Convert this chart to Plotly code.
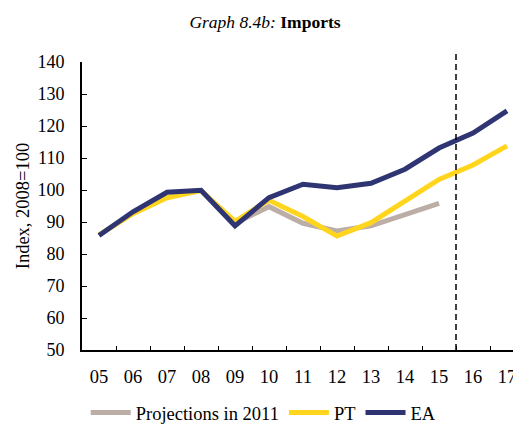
import plotly.graph_objects as go

years = ["05", "06", "07", "08", "09", "10", "11", "12", "13", "14", "15", "16", "17"]
ea = [85.8, 93.2, 99.3, 99.9, 88.8, 97.6, 101.8, 100.7, 102.1, 106.5, 113.1, 117.8, 124.7]
pt = [86.0, 92.6, 97.6, 99.8, 90.2, 96.8, 91.7, 85.6, 89.8, 96.6, 103.3, 107.8, 113.8]
proj_years = ["09", "10", "11", "12", "13", "14", "15"]
proj_2011 = [89.6, 94.8, 89.6, 87.2, 88.8, 92.2, 95.8]

serif = "Times New Roman"

fig = go.Figure()
fig.add_trace(go.Scatter(x=proj_years, y=proj_2011, mode="lines", name="Projections in 2011",
                         line=dict(color="#bcaea6", width=5)))
fig.add_trace(go.Scatter(x=years, y=pt, mode="lines", name="PT",
                         line=dict(color="#ffd51e", width=5)))
fig.add_trace(go.Scatter(x=years, y=ea, mode="lines", name="EA",
                         line=dict(color="#2e3572", width=5)))

# vertical marker between 2015 and 2016
fig.add_shape(type="line", xref="x", yref="paper", x0=10.5, x1=10.5, y0=0, y1=1.035,
              line=dict(color="black", width=1.5, dash="6px,4px"))

fig.update_layout(
    width=540, height=450,
    margin=dict(l=82, r=16, t=62, b=100),
    paper_bgcolor="white", plot_bgcolor="white",
    font=dict(family=serif, size=18, color="black"),
    title=dict(text="<i>Graph 8.4b:</i> <b>Imports</b>", x=265 / 540, xanchor="center",
               y=1 - 22 / 450, yanchor="middle", font=dict(family=serif, size=17.5)),
    showlegend=True,
    legend=dict(orientation="h", x=222 / 540, xanchor="center", y=-63 / 288, yanchor="middle",
                font=dict(family=serif, size=18.5), itemwidth=40, tracegroupgap=0),
    xaxis=dict(type="category", categoryorder="array", categoryarray=years,
               range=[-0.5, 12.5], showgrid=False, zeroline=False,
               showline=True, linecolor="black", linewidth=2,
               ticks="inside", tickson="boundaries", ticklen=4, tickcolor="black",
               tickfont=dict(size=18.5), ticklabelstandoff=9),
    yaxis=dict(range=[50, 140], dtick=10, showgrid=False, zeroline=False,
               showline=True, linecolor="black", linewidth=2,
               ticks="inside", ticklen=5, tickcolor="black",
               tickfont=dict(size=18), ticklabelstandoff=12,
               title=dict(text="Index, 2008=100", font=dict(size=18.5), standoff=3)),
)

fig.write_html("out.html")
